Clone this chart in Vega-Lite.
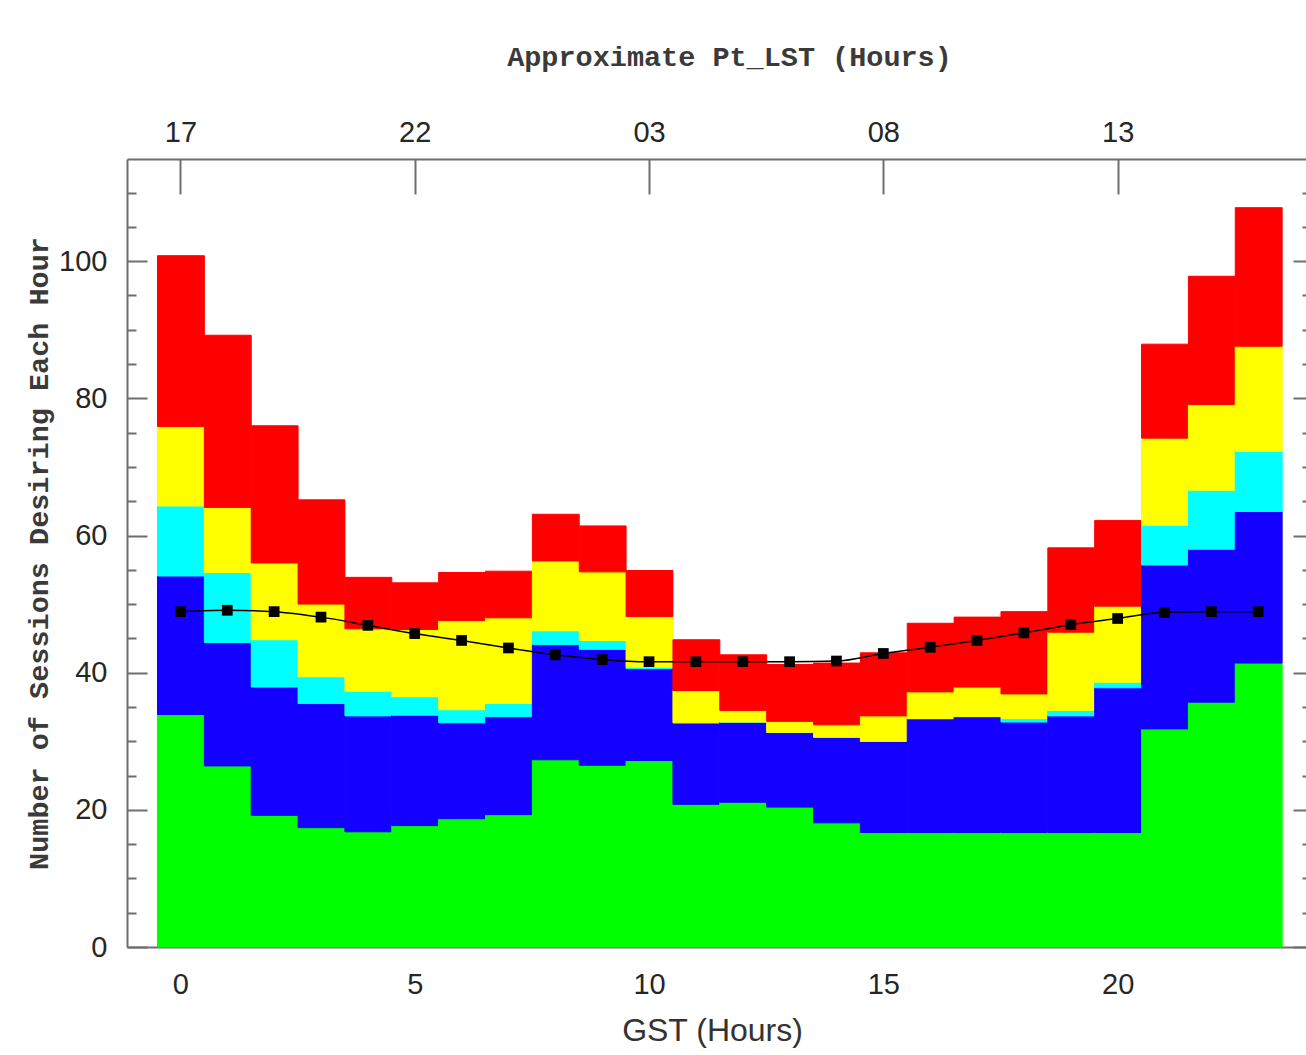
{
  "$schema": "https://vega.github.io/schema/vega-lite/v6.json",
  "autosize": "none",
  "width": 1179,
  "height": 788,
  "padding": {"left": 127, "top": 159, "right": 0, "bottom": 108},
  "background": "white",
  "config": {
    "view": {"stroke": null},
    "axis": {
      "domainColor": "#6e6e6e",
      "domainWidth": 2,
      "tickColor": "#6e6e6e",
      "tickWidth": 2,
      "labelFont": "Liberation Sans",
      "labelFontSize": 29,
      "labelColor": "#262626",
      "labelOverlap": false,
      "labelFlush": false,
      "grid": false,
      "titleColor": "#333333",
      "titleFontWeight": "normal"
    }
  },
  "datasets": {
    "bars": [
      {"hour": 0, "group": "Group 1", "count": 33.9}, {"hour": 0, "group": "Group 2", "count": 20.2}, {"hour": 0, "group": "Group 3", "count": 10.2}, {"hour": 0, "group": "Group 4", "count": 11.6}, {"hour": 0, "group": "Group 5", "count": 24.9},
      {"hour": 1, "group": "Group 1", "count": 26.4}, {"hour": 1, "group": "Group 2", "count": 18.0}, {"hour": 1, "group": "Group 3", "count": 10.2}, {"hour": 1, "group": "Group 4", "count": 9.5}, {"hour": 1, "group": "Group 5", "count": 25.1},
      {"hour": 2, "group": "Group 1", "count": 19.2}, {"hour": 2, "group": "Group 2", "count": 18.7}, {"hour": 2, "group": "Group 3", "count": 6.9}, {"hour": 2, "group": "Group 4", "count": 11.2}, {"hour": 2, "group": "Group 5", "count": 20.0},
      {"hour": 3, "group": "Group 1", "count": 17.4}, {"hour": 3, "group": "Group 2", "count": 18.1}, {"hour": 3, "group": "Group 3", "count": 3.9}, {"hour": 3, "group": "Group 4", "count": 10.6}, {"hour": 3, "group": "Group 5", "count": 15.2},
      {"hour": 4, "group": "Group 1", "count": 16.8}, {"hour": 4, "group": "Group 2", "count": 16.9}, {"hour": 4, "group": "Group 3", "count": 3.6}, {"hour": 4, "group": "Group 4", "count": 9.1}, {"hour": 4, "group": "Group 5", "count": 7.5},
      {"hour": 5, "group": "Group 1", "count": 17.7}, {"hour": 5, "group": "Group 2", "count": 16.1}, {"hour": 5, "group": "Group 3", "count": 2.7}, {"hour": 5, "group": "Group 4", "count": 9.8}, {"hour": 5, "group": "Group 5", "count": 6.8},
      {"hour": 6, "group": "Group 1", "count": 18.7}, {"hour": 6, "group": "Group 2", "count": 14.0}, {"hour": 6, "group": "Group 3", "count": 1.9}, {"hour": 6, "group": "Group 4", "count": 13.0}, {"hour": 6, "group": "Group 5", "count": 7.0},
      {"hour": 7, "group": "Group 1", "count": 19.3}, {"hour": 7, "group": "Group 2", "count": 14.3}, {"hour": 7, "group": "Group 3", "count": 1.9}, {"hour": 7, "group": "Group 4", "count": 12.5}, {"hour": 7, "group": "Group 5", "count": 6.8},
      {"hour": 8, "group": "Group 1", "count": 27.3}, {"hour": 8, "group": "Group 2", "count": 16.8}, {"hour": 8, "group": "Group 3", "count": 2.0}, {"hour": 8, "group": "Group 4", "count": 10.2}, {"hour": 8, "group": "Group 5", "count": 6.8},
      {"hour": 9, "group": "Group 1", "count": 26.5}, {"hour": 9, "group": "Group 2", "count": 16.9}, {"hour": 9, "group": "Group 3", "count": 1.3}, {"hour": 9, "group": "Group 4", "count": 10.0}, {"hour": 9, "group": "Group 5", "count": 6.7},
      {"hour": 10, "group": "Group 1", "count": 27.2}, {"hour": 10, "group": "Group 2", "count": 13.4}, {"hour": 10, "group": "Group 3", "count": 0.2}, {"hour": 10, "group": "Group 4", "count": 7.4}, {"hour": 10, "group": "Group 5", "count": 6.7},
      {"hour": 11, "group": "Group 1", "count": 20.8}, {"hour": 11, "group": "Group 2", "count": 11.9}, {"hour": 11, "group": "Group 3", "count": 0.0}, {"hour": 11, "group": "Group 4", "count": 4.7}, {"hour": 11, "group": "Group 5", "count": 7.4},
      {"hour": 12, "group": "Group 1", "count": 21.1}, {"hour": 12, "group": "Group 2", "count": 11.7}, {"hour": 12, "group": "Group 3", "count": 0.0}, {"hour": 12, "group": "Group 4", "count": 1.7}, {"hour": 12, "group": "Group 5", "count": 8.1},
      {"hour": 13, "group": "Group 1", "count": 20.4}, {"hour": 13, "group": "Group 2", "count": 10.9}, {"hour": 13, "group": "Group 3", "count": 0.0}, {"hour": 13, "group": "Group 4", "count": 1.6}, {"hour": 13, "group": "Group 5", "count": 8.3},
      {"hour": 14, "group": "Group 1", "count": 18.1}, {"hour": 14, "group": "Group 2", "count": 12.5}, {"hour": 14, "group": "Group 3", "count": 0.0}, {"hour": 14, "group": "Group 4", "count": 1.8}, {"hour": 14, "group": "Group 5", "count": 9.0},
      {"hour": 15, "group": "Group 1", "count": 16.7}, {"hour": 15, "group": "Group 2", "count": 13.3}, {"hour": 15, "group": "Group 3", "count": 0.0}, {"hour": 15, "group": "Group 4", "count": 3.7}, {"hour": 15, "group": "Group 5", "count": 9.2},
      {"hour": 16, "group": "Group 1", "count": 16.7}, {"hour": 16, "group": "Group 2", "count": 16.6}, {"hour": 16, "group": "Group 3", "count": 0.0}, {"hour": 16, "group": "Group 4", "count": 3.9}, {"hour": 16, "group": "Group 5", "count": 10.0},
      {"hour": 17, "group": "Group 1", "count": 16.7}, {"hour": 17, "group": "Group 2", "count": 16.9}, {"hour": 17, "group": "Group 3", "count": 0.0}, {"hour": 17, "group": "Group 4", "count": 4.3}, {"hour": 17, "group": "Group 5", "count": 10.2},
      {"hour": 18, "group": "Group 1", "count": 16.7}, {"hour": 18, "group": "Group 2", "count": 16.1}, {"hour": 18, "group": "Group 3", "count": 0.5}, {"hour": 18, "group": "Group 4", "count": 3.6}, {"hour": 18, "group": "Group 5", "count": 12.0},
      {"hour": 19, "group": "Group 1", "count": 16.7}, {"hour": 19, "group": "Group 2", "count": 17.0}, {"hour": 19, "group": "Group 3", "count": 0.8}, {"hour": 19, "group": "Group 4", "count": 11.4}, {"hour": 19, "group": "Group 5", "count": 12.3},
      {"hour": 20, "group": "Group 1", "count": 16.7}, {"hour": 20, "group": "Group 2", "count": 21.1}, {"hour": 20, "group": "Group 3", "count": 0.8}, {"hour": 20, "group": "Group 4", "count": 11.1}, {"hour": 20, "group": "Group 5", "count": 12.5},
      {"hour": 21, "group": "Group 1", "count": 31.8}, {"hour": 21, "group": "Group 2", "count": 23.9}, {"hour": 21, "group": "Group 3", "count": 5.8}, {"hour": 21, "group": "Group 4", "count": 12.7}, {"hour": 21, "group": "Group 5", "count": 13.7},
      {"hour": 22, "group": "Group 1", "count": 35.7}, {"hour": 22, "group": "Group 2", "count": 22.3}, {"hour": 22, "group": "Group 3", "count": 8.6}, {"hour": 22, "group": "Group 4", "count": 12.5}, {"hour": 22, "group": "Group 5", "count": 18.7},
      {"hour": 23, "group": "Group 1", "count": 41.4}, {"hour": 23, "group": "Group 2", "count": 22.1}, {"hour": 23, "group": "Group 3", "count": 8.8}, {"hour": 23, "group": "Group 4", "count": 15.3}, {"hour": 23, "group": "Group 5", "count": 20.2}
    ],
    "curve": [
      {"hour": 0, "value": 48.9}, {"hour": 1, "value": 49.1}, {"hour": 2, "value": 48.9}, {"hour": 3, "value": 48.1},
      {"hour": 4, "value": 46.9}, {"hour": 5, "value": 45.7}, {"hour": 6, "value": 44.7}, {"hour": 7, "value": 43.6},
      {"hour": 8, "value": 42.6}, {"hour": 9, "value": 41.9}, {"hour": 10, "value": 41.6}, {"hour": 11, "value": 41.6},
      {"hour": 12, "value": 41.6}, {"hour": 13, "value": 41.6}, {"hour": 14, "value": 41.7}, {"hour": 15, "value": 42.8},
      {"hour": 16, "value": 43.7}, {"hour": 17, "value": 44.7}, {"hour": 18, "value": 45.8}, {"hour": 19, "value": 47.0},
      {"hour": 20, "value": 47.9}, {"hour": 21, "value": 48.8}, {"hour": 22, "value": 48.9}, {"hour": 23, "value": 48.9}
    ]
  },
  "resolve": {"axis": {"x": "independent", "y": "independent"}},
  "layer": [
    {
      "data": {"name": "bars"},
      "mark": {"type": "bar", "binSpacing": 0, "strokeWidth": 1},
      "encoding": {
        "x": {
          "field": "hour", "type": "quantitative",
          "bin": {"step": 1, "extent": [-0.5, 23.5], "nice": false},
          "scale": {"domain": [-1.14, 24.02], "nice": false, "zero": false},
          "axis": {
            "orient": "bottom",
            "values": [0,1,2,3,4,5,6,7,8,9,10,11,12,13,14,15,16,17,18,19,20,21,22,23],
            "tickSize": {"condition": {"test": "datum.value % 5 === 0", "value": -20}, "value": -10},
            "labelExpr": "datum.value % 5 === 0 ? datum.label : ''",
            "labelPadding": 43,
            "title": "GST (Hours)",
            "titleFont": "Liberation Sans",
            "titleFontSize": 32,
            "titleX": 585,
            "titleY": 83,
            "titleAlign": "center",
            "titleBaseline": "middle"
          }
        },
        "y": {
          "field": "count", "type": "quantitative", "stack": "zero",
          "scale": {"domain": [0, 114.9], "nice": false},
          "axis": {
            "orient": "left",
            "values": [0,5,10,15,20,25,30,35,40,45,50,55,60,65,70,75,80,85,90,95,100,105,110],
            "tickSize": {"condition": {"test": "datum.value % 20 === 0", "value": -20}, "value": -9},
            "labelExpr": "datum.value % 20 === 0 ? datum.label : ''",
            "labelPadding": 40,
            "title": "Number of Sessions Desiring Each Hour",
            "titleFont": "Liberation Mono",
            "titleFontSize": 28.5,
            "titleFontWeight": "bold",
            "titleColor": "#3a3a3a",
            "titleAngle": -90,
            "titleX": -89,
            "titleY": 394,
            "titleAlign": "center",
            "titleBaseline": "middle"
          }
        },
        "color": {
          "field": "group", "type": "nominal",
          "scale": {"domain": ["Group 1", "Group 2", "Group 3", "Group 4", "Group 5"], "range": ["#00ff00", "#1400ff", "#00ffff", "#ffff00", "#ff0000"]},
          "legend": null
        },
        "stroke": {
          "field": "group", "type": "nominal",
          "scale": {"domain": ["Group 1", "Group 2", "Group 3", "Group 4", "Group 5"], "range": ["#00ff00", "#1400ff", "#00ffff", "#ffff00", "#ff0000"]},
          "legend": null
        },
        "order": {"field": "group", "sort": "ascending"}
      }
    },
    {
      "data": {"name": "curve"},
      "mark": {"type": "line", "color": "black", "strokeWidth": 1.5, "interpolate": "monotone"},
      "encoding": {
        "x": {
          "field": "hour", "type": "quantitative",
          "axis": {
            "orient": "top",
            "values": [0, 5, 10, 15, 20],
            "tickSize": -35,
            "labelExpr": "((datum.value + 17) % 24 < 10 ? '0' : '') + ((datum.value + 17) % 24)",
            "labelPadding": 47,
            "title": "Approximate Pt_LST (Hours)",
            "titleFont": "Liberation Mono",
            "titleFontSize": 28.5,
            "titleFontWeight": "bold",
            "titleColor": "#3a3a3a",
            "titleX": 602,
            "titleY": -103,
            "titleAlign": "center",
            "titleBaseline": "middle"
          }
        },
        "y": {
          "field": "value", "type": "quantitative",
          "axis": {
            "orient": "right",
            "values": [0,5,10,15,20,25,30,35,40,45,50,55,60,65,70,75,80,85,90,95,100,105,110],
            "tickSize": {"condition": {"test": "datum.value % 20 === 0", "value": -13}, "value": -4},
            "labels": false,
            "domain": false,
            "title": null
          }
        }
      }
    },
    {
      "data": {"name": "curve"},
      "mark": {"type": "point", "shape": "square", "filled": true, "color": "black", "size": 115, "opacity": 1},
      "encoding": {
        "x": {"field": "hour", "type": "quantitative", "axis": null},
        "y": {"field": "value", "type": "quantitative", "axis": null}
      }
    }
  ]
}
